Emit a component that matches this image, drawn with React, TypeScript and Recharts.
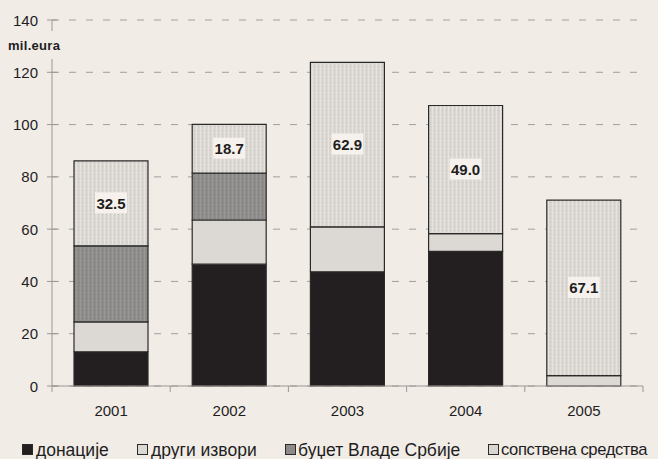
import React from "react";
import { BarChart, Bar, XAxis, YAxis, CartesianGrid, LabelList } from "recharts";

const years = ["2001", "2002", "2003", "2004", "2005"];
const donacije = [13.1, 46.6, 43.7, 51.5, 0];
const drugiIzvori = [11.4, 16.9, 17.2, 6.8, 4.0];
const budzet = [29.1, 17.9, 0, 0, 0];
const sopstvena = [32.5, 18.7, 62.9, 49.0, 67.1];
const yTicks = [0, 20, 40, 60, 80, 100, 120, 140];

const data = years.map((year, i) => ({
  year,
  donacije: donacije[i],
  drugi: drugiIzvori[i],
  budzet: budzet[i],
  sopstvena: sopstvena[i],
}));

const BG = "#f2ece7";
const FONT = "'Liberation Sans', Arial, sans-serif";
const AXIS = "#9a9794";

const legendItems = [
  { label: "донације", fill: "#231f20", x: 22, textX: 36 },
  { label: "други извори", fill: "#dcd9d4", x: 137, textX: 151 },
  { label: "буџет Владе Србије", fill: "#8d8b89", x: 285, textX: 298 },
  { label: "сопствена средства", fill: "#d9d6d1", x: 488, textX: 501 },
];

function ValueLabel(props: any) {
  const { x, y, width, height, value } = props;
  if (!value) return null;
  const cx = x + width / 2;
  const cy = y + height / 2;
  return (
    <g>
      <rect x={cx - 16} y={cy - 11} width={32} height={21} fill="#f6f1ec" />
      <text
        x={cx}
        y={cy}
        textAnchor="middle"
        dominantBaseline="central"
        fontFamily={FONT}
        fontWeight="bold"
        fontSize={15}
        fill="#1e1e1e"
      >
        {Number(value).toFixed(1)}
      </text>
    </g>
  );
}

function UnitLabel() {
  return (
    <g>
      <rect x={6} y={31} width={62} height={28} fill={BG} />
      <text x={8} y={50} fontFamily={FONT} fontWeight="bold" fontSize={13} fill="#1e1e1e" letterSpacing={0.3}>
        mil.eura
      </text>
    </g>
  );
}

function YTick(props: any) {
  const { x, y, payload } = props;
  return (
    <g>
      <line x1={x - 5} x2={x + 5} y1={y} y2={y} stroke={AXIS} />
      <text x={x - 14} y={y} textAnchor="end" dominantBaseline="central" fontFamily={FONT} fontSize={15} fill="#1e1e1e">
        {payload.value}
      </text>
    </g>
  );
}

function XTick(props: any) {
  const { x, y, payload, index, visibleTicksCount } = props;
  const half = 591 / years.length / 2;
  const last = index === (visibleTicksCount ?? years.length) - 1;
  return (
    <g>
      <line x1={x - half} x2={x - half} y1={y} y2={y + 6} stroke={AXIS} />
      {last && <line x1={x + half} x2={x + half} y1={y} y2={y + 6} stroke={AXIS} />}
      <text x={x} y={y + 19} textAnchor="middle" dy="0.71em" fontFamily={FONT} fontSize={15} fill="#1e1e1e">
        {payload.value}
      </text>
    </g>
  );
}

export default function App() {
  const stroke = "#2a2a2a";
  return (
    <div
      style={{
        position: "absolute",
        left: 0,
        top: 0,
        width: 658,
        height: 459,
        background: BG,
        fontFamily: FONT,
        overflow: "hidden",
      }}
    >
      <BarChart
        width={658}
        height={459}
        data={data}
        margin={{ top: 20, right: 15, left: 0, bottom: 43 }}
        barSize={74}
      >
        <defs>
          <pattern id="dotsLight" width="4" height="4" patternUnits="userSpaceOnUse">
            <rect width="4" height="4" fill="#dad7d2" />
            <rect x="0" y="0" width="1" height="4" fill="#e7e4e0" />
            <rect x="2" y="2" width="1" height="1" fill="#c6c3be" />
          </pattern>
          <pattern id="dotsDark" width="4" height="4" patternUnits="userSpaceOnUse">
            <rect width="4" height="4" fill="#8f8d8b" />
            <rect x="0" y="0" width="1" height="4" fill="#999795" />
            <rect x="2" y="2" width="1" height="1" fill="#7d7b79" />
          </pattern>
        </defs>
        <CartesianGrid vertical={false} stroke="#a29f9b" strokeDasharray="7 10" />
        <XAxis
          dataKey="year"
          height={30}
          stroke={AXIS}
          tickLine={false}
          tickSize={0}
          tickMargin={0}
          tick={XTick}
          interval={0}
        />
        <YAxis
          width={52}
          domain={[0, 140]}
          ticks={yTicks}
          stroke={AXIS}
          tickLine={false}
          tickSize={0}
          tickMargin={0}
          tick={YTick}
          label={{ content: () => <UnitLabel /> }}
        />
        <Bar dataKey="donacije" stackId="a" fill="#231f20" stroke={stroke} strokeWidth={1.2} isAnimationActive={false} />
        <Bar dataKey="drugi" stackId="a" fill="#dcd9d4" stroke={stroke} strokeWidth={1.2} isAnimationActive={false} />
        <Bar dataKey="budzet" stackId="a" fill="url(#dotsDark)" stroke={stroke} strokeWidth={1.2} isAnimationActive={false} />
        <Bar dataKey="sopstvena" stackId="a" fill="url(#dotsLight)" stroke={stroke} strokeWidth={1.2} isAnimationActive={false}>
          <LabelList dataKey="sopstvena" content={ValueLabel} />
        </Bar>
      </BarChart>
      {legendItems.map((item, i) => (
        <React.Fragment key={item.label}>
          <div
            style={{
              position: "absolute",
              left: item.x,
              top: 444,
              width: 9,
              height: 9,
              background: item.fill,
              border: "1px solid #2a2a2a",
            }}
          />
          <div
            style={{
              position: "absolute",
              left: item.textX,
              top: 439,
              fontSize: i === legendItems.length - 1 ? 16.6 : 17.5,
              letterSpacing: i === legendItems.length - 1 ? -0.4 : 0,
              lineHeight: "22px",
              color: "#1e1e1e",
              whiteSpace: "nowrap",
            }}
          >
            {item.label}
          </div>
        </React.Fragment>
      ))}
    </div>
  );
}
